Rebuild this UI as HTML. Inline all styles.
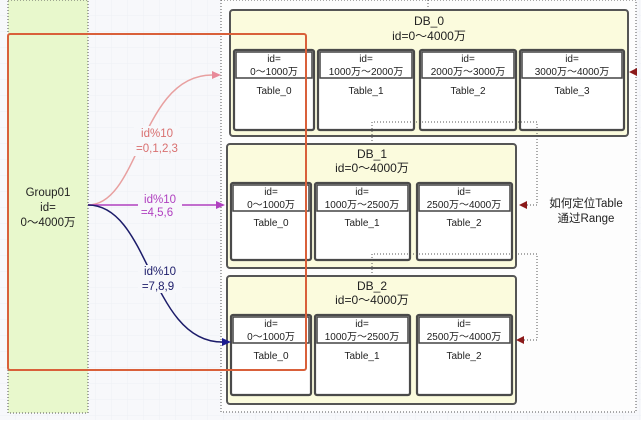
<!DOCTYPE html>
<html><head><meta charset="utf-8"><style>
body{margin:0;background:#fff;}
svg text{font-family:"Liberation Sans","Noto Sans CJK SC",sans-serif;}
</style></head><body>
<svg width="641" height="420" viewBox="0 0 641 420" xmlns="http://www.w3.org/2000/svg">
<defs>
<pattern id="g" width="16" height="16" patternUnits="userSpaceOnUse"><path d="M16 0V16H0" fill="none" stroke="#eef0f4" stroke-width="1"/></pattern>
</defs>
<rect width="641" height="420" fill="#f7f8fb"/>
<rect width="641" height="420" fill="url(#g)"/>
<rect x="8" y="0" width="80" height="413" fill="#e8f8cc" stroke="#555" stroke-dasharray="1,2"/>
<rect x="221" y="0" width="415" height="412" fill="#fdfdfd" stroke="#555" stroke-dasharray="1,2"/>
<text text-anchor="middle" font-size="11.5" fill="#222"><tspan x="48" y="196">Group01</tspan><tspan x="48" y="211">id=</tspan><tspan x="48" y="226">0～4000万</tspan></text>

<g stroke="#555" stroke-width="2" fill="#fbfbdd">
<rect x="230" y="10" width="398" height="126" rx="3"/>
<rect x="227" y="144" width="289" height="124" rx="3"/>
<rect x="227" y="276" width="289" height="128" rx="3"/>
</g>
<g text-anchor="middle" font-size="12" fill="#222">
<text x="429" y="25">DB_0</text><text x="429" y="40">id=0～4000万</text>
<text x="372" y="158">DB_1</text><text x="372" y="172">id=0～4000万</text>
<text x="372" y="290">DB_2</text><text x="372" y="304">id=0～4000万</text>
</g>
<g stroke="#4a4a4a" stroke-width="2.2" fill="#fff">
<rect x="234" y="50" width="80" height="80" rx="2"/><rect x="318" y="50" width="96" height="80" rx="2"/><rect x="420" y="50" width="96" height="80" rx="2"/><rect x="520" y="50" width="104" height="80" rx="2"/>
<rect x="231" y="183" width="80" height="77" rx="2"/><rect x="315" y="183" width="95" height="77" rx="2"/><rect x="417" y="183" width="95" height="77" rx="2"/>
<rect x="231" y="315" width="80" height="80" rx="2"/><rect x="315" y="315" width="95" height="80" rx="2"/><rect x="417" y="315" width="95" height="80" rx="2"/>
</g>
<g stroke="#444" stroke-width="1.5" fill="none">
<path d="M236 52H312V78H236ZM320 52H412V78H320ZM422 52H514V78H422ZM522 52H622V78H522ZM233 185H309V211H233ZM317 185H408V211H317ZM419 185H510V211H419ZM233 317H309V343H233ZM317 317H408V343H317ZM419 317H510V343H419Z"/>
</g>
<g text-anchor="middle" font-size="10" fill="#222">
<text x="274" y="62">id=</text><text x="274" y="75">0～1000万</text><text x="274" y="94">Table_0</text>
<text x="366" y="62">id=</text><text x="366" y="75">1000万～2000万</text><text x="366" y="94">Table_1</text>
<text x="468" y="62">id=</text><text x="468" y="75">2000万～3000万</text><text x="468" y="94">Table_2</text>
<text x="572" y="62">id=</text><text x="572" y="75">3000万～4000万</text><text x="572" y="94">Table_3</text>
<text x="271" y="195">id=</text><text x="271" y="208">0～1000万</text><text x="271" y="226">Table_0</text>
<text x="362" y="195">id=</text><text x="362" y="208">1000万～2500万</text><text x="362" y="226">Table_1</text>
<text x="464" y="195">id=</text><text x="464" y="208">2500万～4000万</text><text x="464" y="226">Table_2</text>
<text x="271" y="327">id=</text><text x="271" y="340">0～1000万</text><text x="271" y="359">Table_0</text>
<text x="362" y="327">id=</text><text x="362" y="340">1000万～2500万</text><text x="362" y="359">Table_1</text>
<text x="464" y="327">id=</text><text x="464" y="340">2500万～4000万</text><text x="464" y="359">Table_2</text>
</g>
<g stroke="#555" stroke-dasharray="1,2" fill="none">
<path d="M428 0V10"/>
<path d="M372 144V122H537V205H524"/>
<path d="M372 276V254H537V340H521"/>
</g>
<g fill="#8b1a1a">
<path d="M519 205l8-4v8z"/><path d="M516 340l8-4v8z"/><path d="M629 72l8-4v8z"/>
</g>
<text text-anchor="middle" font-size="11.5" fill="#222"><tspan x="586" y="207">如何定位Table</tspan><tspan x="586" y="222">通过Range</tspan></text>

<rect x="8" y="34" width="298" height="336" rx="2" fill="none" stroke="#d9603a" stroke-width="2"/>

<path d="M88 205C140 205 140 75 212 75" fill="none" stroke="#e8a0a0" stroke-width="1.5"/>
<path d="M212 71l9 4-9 4z" fill="#e88a9a"/>
<path d="M88 205H218" fill="none" stroke="#b040c0" stroke-width="1.5"/>
<path d="M216 201l9 4-9 4z" fill="#b040c0"/>
<path d="M88 205C150 205 150 342 222 342" fill="none" stroke="#1c1c6a" stroke-width="1.5"/>
<path d="M222 338l9 4-9 4z" fill="#1c1c90"/>
<g fill="#f7f8fb">
<rect x="134" y="126" width="46" height="30"/>
<rect x="138" y="193" width="44" height="26"/>
<rect x="138" y="265" width="44" height="28"/>
</g>
<g text-anchor="middle" font-size="11.5">
<text x="157" y="137" fill="#d97070">id%10</text><text x="157" y="152" fill="#d97070">=0,1,2,3</text>
<text x="160" y="203" fill="#b040c0">id%10</text><text x="157" y="216" fill="#b040c0">=4,5,6</text>
<text x="160" y="275" fill="#1c1c6a">id%10</text><text x="158" y="290" fill="#1c1c6a">=7,8,9</text>
</g>
</svg>
</body></html>
